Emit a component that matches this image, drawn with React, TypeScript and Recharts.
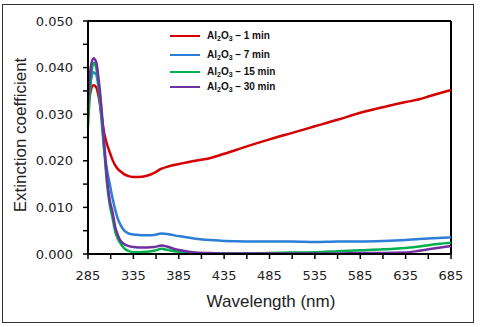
import React from "react";
import { LineChart, Line, XAxis, YAxis, ReferenceLine } from "recharts";

const wavelengths = [285, 288, 291, 294, 297, 300, 303, 306, 309, 312, 315, 318, 321, 325, 330, 335, 340, 350, 358, 366, 372, 380, 390, 400, 420, 435, 460, 485, 510, 535, 560, 585, 610, 635, 650, 660, 685];

const min1 = [0.031, 0.035, 0.0362, 0.0358, 0.0335, 0.0295, 0.0258, 0.0235, 0.0218, 0.0202, 0.019, 0.0182, 0.0177, 0.0171, 0.0167, 0.0165, 0.0165, 0.0168, 0.0174, 0.0183, 0.0187, 0.0191, 0.0195, 0.0199, 0.0206, 0.0215, 0.0231, 0.0246, 0.026, 0.0274, 0.0288, 0.0303, 0.0315, 0.0326, 0.0332, 0.0338, 0.0352];

const min7 = [0.031, 0.037, 0.039, 0.0385, 0.035, 0.0285, 0.022, 0.018, 0.015, 0.012, 0.0095, 0.0075, 0.0062, 0.005, 0.0044, 0.0042, 0.0041, 0.004, 0.0041, 0.0044, 0.0043, 0.004, 0.0037, 0.0034, 0.003, 0.0028, 0.0027, 0.0027, 0.0027, 0.0026, 0.0027, 0.0027, 0.0028, 0.003, 0.0032, 0.0033, 0.0036];

const min15 = [0.0273, 0.037, 0.041, 0.04, 0.036, 0.03, 0.022, 0.015, 0.0105, 0.0078, 0.0048, 0.0032, 0.0022, 0.0012, 0.0006, 0.0004, 0.0004, 0.0005, 0.0007, 0.0011, 0.0009, 0.0006, 0.0003, 0.0002, 0.0001, 0.0001, 0.0001, 0.0002, 0.0003, 0.0004, 0.0006, 0.0008, 0.001, 0.0013, 0.0016, 0.0019, 0.0024];

const min30 = [0.032, 0.04, 0.042, 0.0412, 0.037, 0.031, 0.0235, 0.016, 0.0115, 0.009, 0.0058, 0.004, 0.0028, 0.0021, 0.0017, 0.0015, 0.0014, 0.0014, 0.0015, 0.0018, 0.0016, 0.0011, 0.0007, 0.0004, 0.0002, 0.0001, 0.0001, 0.0001, 0.0001, 0.0001, 0.0001, 0.0002, 0.0002, 0.0003, 0.0007, 0.001, 0.0017];

const xTicks = [285, 310, 335, 360, 385, 410, 435, 460, 485, 510, 535, 560, 585, 610, 635, 660, 685];
const yTicks = [0, 0.005, 0.01, 0.015, 0.02, 0.025, 0.03, 0.035, 0.04, 0.045, 0.05];

const seriesNames = ["1 min", "7 min", "15 min", "30 min"];
const seriesKeys = ["m1", "m7", "m15", "m30"];
const seriesColors = ["#D40000", "#2E7DD7", "#00B050", "#7030A0"];

const data = wavelengths.map((w, i) => ({
  w,
  m1: min1[i],
  m7: min7[i],
  m15: min15[i],
  m30: min30[i],
}));

const legendRowsY = [36, 55, 72, 87];

const LegendBox = () => (
  <div style={{ position: "absolute", left: 0, top: 0, width: 480, height: 327, pointerEvents: "none", fontFamily: "'Liberation Sans', Arial, sans-serif" }}>
    {seriesNames.map((n, i) => (
      <React.Fragment key={n}>
        <div style={{ position: "absolute", left: 170, top: legendRowsY[i] - 1.25, width: 30, height: 2.5, background: seriesColors[i] }} />
        <span style={{ position: "absolute", left: 207, top: legendRowsY[i] - 7, whiteSpace: "nowrap", fontSize: 10, fontWeight: "bold", color: "#111", lineHeight: "14px" }}>
          Al<span style={{ fontSize: 7, position: "relative", top: 2 }}>2</span>O<span style={{ fontSize: 7, position: "relative", top: 2 }}>3</span> – {n}
        </span>
      </React.Fragment>
    ))}
  </div>
);

export default function App() {
  return (
    <div style={{ position: "absolute", left: 0, top: 0, width: 480, height: 327, background: "#fff" }}>
      <div style={{ position: "absolute", left: 2, top: 4, width: 472, height: 319, border: "1.5px solid #333", boxSizing: "border-box" }} />
      <div style={{ position: "absolute", left: 0, top: 0 }}>
        <LineChart width={480} height={327} data={data} margin={{ top: 21, right: 29, left: 0, bottom: 0 }}>
          <XAxis
            dataKey="w"
            type="number"
            domain={[285, 685]}
            ticks={xTicks}
            interval={0}
            height={73}
            tickSize={5}
            tickMargin={12}
            axisLine={{ stroke: "#000", strokeWidth: 2 }}
            tickLine={{ stroke: "#000", strokeWidth: 1.5 }}
            tick={{ fill: "#222", fontSize: 13, fontFamily: "'DejaVu Sans', sans-serif" }}
            tickFormatter={(v: number) => ((v - 285) % 50 === 0 ? String(v) : "")}
          />
          <YAxis
            type="number"
            domain={[0, 0.05]}
            ticks={yTicks}
            interval={0}
            width={88}
            tickSize={5}
            tickMargin={10}
            axisLine={{ stroke: "#000", strokeWidth: 2 }}
            tickLine={{ stroke: "#000", strokeWidth: 1.5 }}
            tick={{ fill: "#222", fontSize: 13, fontFamily: "'DejaVu Sans', sans-serif" }}
            tickFormatter={(v: number) => (Math.round(v * 1000) % 10 === 0 ? v.toFixed(3) : "")}
          />
          <ReferenceLine y={0.05} stroke="#000" strokeWidth={2} />
          <ReferenceLine x={685} stroke="#000" strokeWidth={2} />
          {seriesKeys.map((k, i) => (
            <Line
              key={k}
              dataKey={k}
              name={seriesNames[i]}
              type="monotone"
              stroke={seriesColors[i]}
              strokeWidth={2.5}
              dot={false}
              isAnimationActive={false}
            />
          ))}
        </LineChart>
      </div>
      <LegendBox />
      <svg width={480} height={327} style={{ position: "absolute", left: 0, top: 0, pointerEvents: "none" }}>
        <text x={271} y={307} textAnchor="middle" fontSize={17} fontFamily="'Liberation Sans', Arial, sans-serif" fill="#222">
          Wavelength (nm)
        </text>
        <text
          x={0}
          y={0}
          transform="translate(26,135) rotate(-90)"
          textAnchor="middle"
          fontSize={17}
          fontFamily="'Liberation Sans', Arial, sans-serif"
          fill="#222"
        >
          Extinction coefficient
        </text>
      </svg>
    </div>
  );
}
